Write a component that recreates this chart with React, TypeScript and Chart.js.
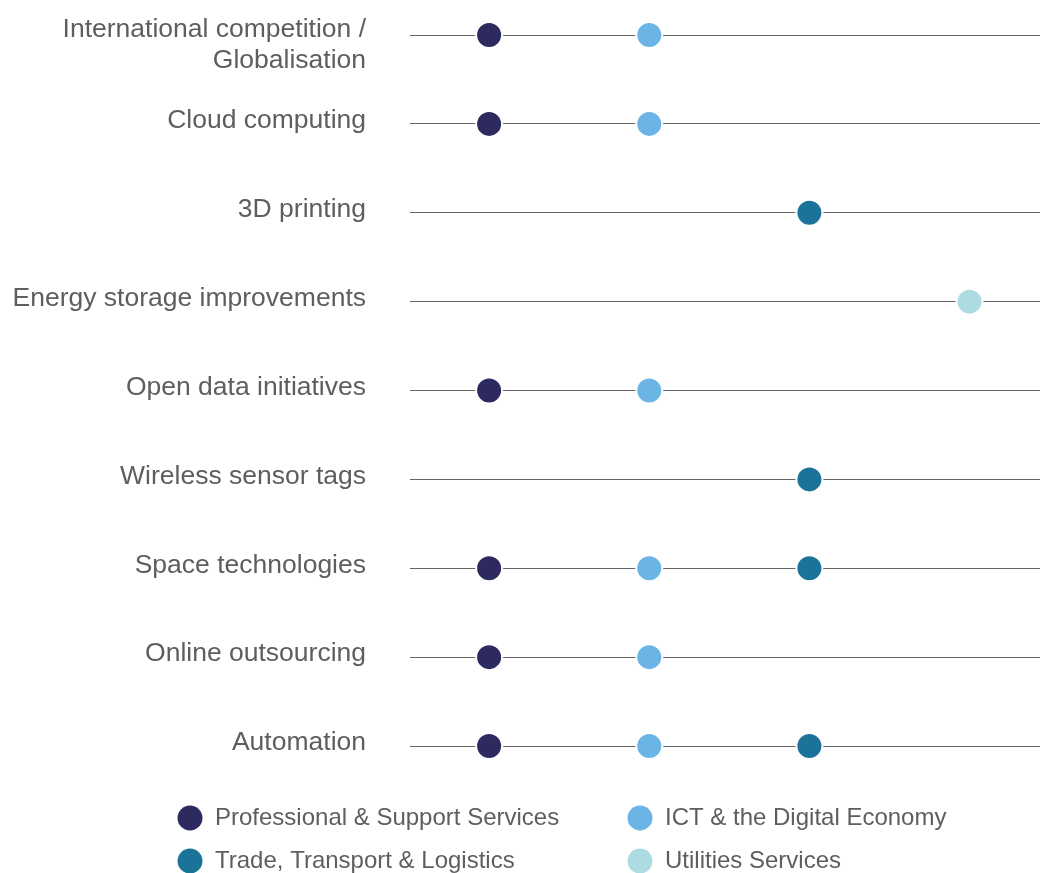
import React, { useEffect, useRef } from "react";
import { Chart, registerables } from "chart.js";

Chart.register(...registerables);

const categories: string[][] = [
  ["International competition /", "Globalisation"],
  ["Cloud computing"],
  ["3D printing"],
  ["Energy storage improvements"],
  ["Open data initiatives"],
  ["Wireless sensor tags"],
  ["Space technologies"],
  ["Online outsourcing"],
  ["Automation"],
];
const categoryKeys = categories.map((c) => c.join(" "));

const sectors = [
  "Professional & Support Services",
  "ICT & the Digital Economy",
  "Trade, Transport & Logistics",
  "Utilities Services",
];
const sectorColors = ["#2c2a5e", "#6bb5e6", "#1b7399", "#acdbe2"];

const professionalRows = [0, 1, 4, 6, 7, 8];
const ictRows = [0, 1, 4, 6, 7, 8];
const tradeRows = [2, 5, 6, 8];
const utilitiesRows = [3];
const sectorRows = [professionalRows, ictRows, tradeRows, utilitiesRows];

const LABEL_COLOR = "#5e5e5e";
const LABEL_FONT = "26.5px 'Liberation Sans', Arial, sans-serif";
const LEGEND_FONT = "24px 'Liberation Sans', Arial, sans-serif";

const labelsPlugin = {
  id: "customLabels",
  afterDraw(chart: any) {
    const ctx = chart.ctx;
    const y = chart.scales.y;
    ctx.save();
    ctx.font = LABEL_FONT;
    ctx.fillStyle = LABEL_COLOR;
    ctx.textAlign = "right";
    ctx.textBaseline = "middle";
    categories.forEach((lines, i) => {
      const py = y.getPixelForValue(i);
      const start = lines.length > 1 ? py - 5 : py - 3;
      lines.forEach((line, j) => {
        ctx.fillText(line, 366, start + j * 31);
      });
    });
    // legend
    const legendPos = [
      [190, 818],
      [640, 818],
      [190, 861],
      [640, 861],
    ];
    ctx.font = LEGEND_FONT;
    sectors.forEach((s, i) => {
      const [lx, ly] = legendPos[i];
      ctx.beginPath();
      ctx.fillStyle = sectorColors[i];
      ctx.arc(lx, ly, 12.5, 0, Math.PI * 2);
      ctx.fill();
      ctx.fillStyle = LABEL_COLOR;
      ctx.textAlign = "left";
      ctx.fillText(s, lx + 25, ly);
    });
    ctx.restore();
  },
};

export default function App() {
  const ref = useRef<HTMLCanvasElement | null>(null);
  useEffect(() => {
    if (!ref.current) return;
    const chart = new Chart(ref.current, {
      type: "scatter",
      data: {
        datasets: sectors.map((s, i) => ({
          label: s,
          data: sectorRows[i].map((r) => ({ x: i, y: categoryKeys[r] })),
          backgroundColor: sectorColors[i],
          borderColor: "#ffffff",
          borderWidth: 2,
          pointRadius: 13,
          pointHoverRadius: 13,
        })),
      } as any,
      options: {
        animation: false,
        responsive: false,
        maintainAspectRatio: false,
        layout: { autoPadding: false, padding: { left: 410, top: 35, bottom: 127, right: 0 } },
        plugins: { legend: { display: false }, tooltip: { enabled: false } },
        scales: {
          x: { type: "linear", min: -0.494, max: 3.44, display: false },
          y: {
            type: "category",
            labels: categoryKeys,
            offset: false,
            display: true,
            ticks: { display: false },
            grid: { color: "#666666", lineWidth: 1, drawTicks: false },
            border: { display: false },
          },
        },
      },
      plugins: [labelsPlugin],
    });
    return () => chart.destroy();
  }, []);
  return (
    <div style={{ position: "fixed", left: 0, top: 0, width: 1040, height: 873, background: "#fff" }}>
      <canvas ref={ref} width={1040} height={873} style={{ display: "block" }} />
    </div>
  );
}
